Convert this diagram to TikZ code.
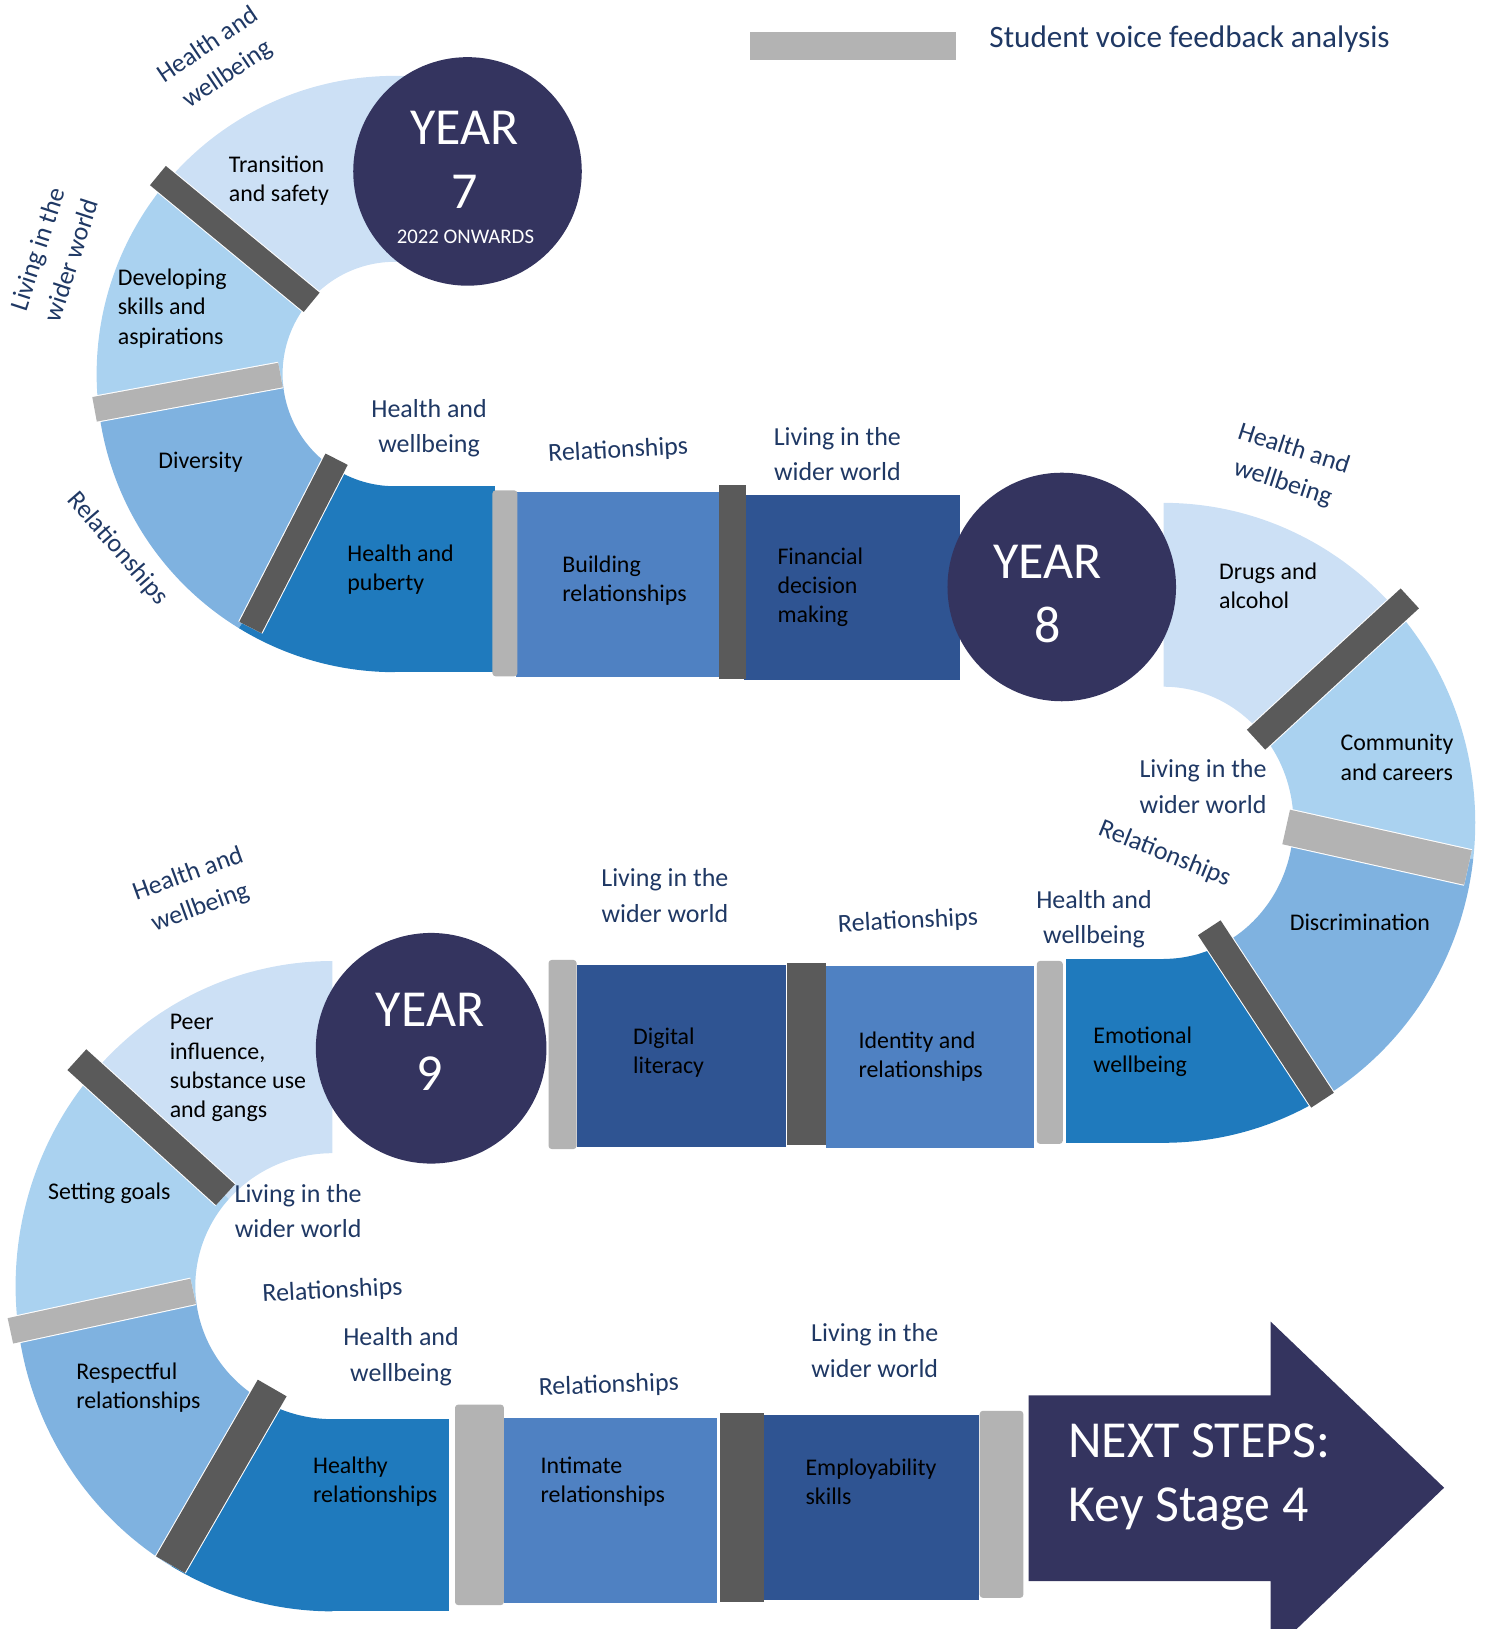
\documentclass[tikz,border=0pt]{standalone}
\usepackage{fontspec}
\setmainfont{Carlito}
\definecolor{navy}{HTML}{34345F}
\definecolor{lbl}{HTML}{1F3864}
\definecolor{cA}{HTML}{CCE0F5}
\definecolor{cB}{HTML}{AAD2F0}
\definecolor{cC}{HTML}{7FB2E0}
\definecolor{cD}{HTML}{1F7ABD}
\definecolor{cE}{HTML}{4F81C2}
\definecolor{cF}{HTML}{2F5492}
\definecolor{sepd}{HTML}{5A5A5A}
\definecolor{sepl}{HTML}{B3B3B3}
\newcommand{\annsec}[9]{\fill[#1] plot[domain=#8:#9,samples=60,variable=\t] ({#2+#4*cos(\t)},{#3+#5*sin(\t)}) -- plot[domain=#9:#8,samples=60,variable=\t] ({#2+#6*cos(\t)},{#3+#7*sin(\t)}) -- cycle;}
\newcommand{\sepbar}[4]{\draw[white,line width=#2+1pt] #3 -- #4; \draw[#1,line width=#2] #3 -- #4;}
\tikzset{
  bandtxt/.style={font=\fontsize{11.5}{14}\selectfont, text=black, align=left, inner sep=0pt, anchor=west},
  lbltxt/.style={font=\fontsize{12.5}{17}\selectfont, text=lbl, align=center, inner sep=0pt},
  yeartxt/.style={font=\fontsize{25}{31}\selectfont, text=white, inner sep=0pt},
  yearcirc/.style={circle, fill=navy, inner sep=0pt, minimum size=#1},
  lsep/.style={fill=sepl, rounded corners=1.5pt},
  dsep/.style={fill=sepd},
}
\begin{document}
\begin{tikzpicture}[x=0.5pt,y=-0.5pt]
\useasboundingbox (0,0) rectangle (1431,1568);
\clip (0,0) rectangle (1431,1568);

% ---------- Year 7 arc ----------
\annsec{cA}{380}{360}{287}{287}{108}{108}{221}{275}
\annsec{cB}{380}{360}{287}{287}{108}{108}{175}{221}
\annsec{cC}{380}{360}{287}{287}{108}{108}{121.5}{175}
\annsec{cD}{380}{360}{287}{287}{108}{108}{90}{121.5}
\fill[cD] (379,468) rectangle (476,647);
% row 1
\fill[cE] (497,474) rectangle (695,652);
\fill[cF] (716,476) rectangle (924,655);
\fill[lsep] (474,472) rectangle (498,651);
\fill[dsep] (692,467) rectangle (718,654);

% ---------- Year 8 arc ----------
\annsec{cA}{1120}{792}{300}{308}{125}{131}{270}{318}
\annsec{cB}{1120}{792}{300}{308}{125}{131}{318}{366.5}
\annsec{cC}{1120}{792}{300}{308}{125}{131}{6.5}{61.5}
\annsec{cD}{1120}{792}{300}{308}{125}{131}{61.5}{90}
\fill[cD] (1026,923) rectangle (1121,1100);
% row 2
\fill[cE] (795,930) rectangle (995,1105);
\fill[cF] (555,929) rectangle (757,1104);
\fill[lsep] (998,925) rectangle (1023,1101);
\fill[dsep] (758,927) rectangle (795,1102);
\fill[lsep] (528,924) rectangle (555,1106);

% ---------- Year 9 arc ----------
\annsec{cA}{320}{1238}{305}{313}{132}{128}{221}{270}
\annsec{cB}{320}{1238}{305}{313}{132}{128}{174}{221}
\annsec{cC}{320}{1238}{305}{313}{132}{128}{120.5}{174}
\annsec{cD}{320}{1238}{305}{313}{132}{128}{90}{120.5}
\fill[cD] (319,1366) rectangle (432,1551);
% row 3
\fill[cE] (485,1365) rectangle (690,1543);
\fill[cF] (735,1362) rectangle (942,1540);
\fill[lsep] (438,1352) rectangle (485,1545);
\fill[dsep] (693,1360) rectangle (735,1542);
\fill[lsep] (943,1358) rectangle (985,1538);

% ---------- radial separators ----------
\sepbar{sepd}{12pt}{(152,169)}{(300,291)}
\sepbar{sepl}{12pt}{(91,394)}{(270,361)}
\sepbar{sepd}{12pt}{(241,604)}{(324,442)}
\sepbar{sepd}{13pt}{(1357,576)}{(1209,712)}
\sepbar{sepl}{17pt}{(1238,796)}{(1413,835)}
\sepbar{sepd}{13pt}{(1164,893)}{(1273,1059)}
\sepbar{sepd}{13.5pt}{(74,1020)}{(217,1150)}
\sepbar{sepl}{12.5pt}{(10,1281)}{(186,1243)}
\sepbar{sepd}{16pt}{(164,1506)}{(262,1336)}

% ---------- arrow ----------
\fill[navy] (990,1343) -- (1223,1343) -- (1223,1272) -- (1390,1432) -- (1223,1592) -- (1223,1522) -- (990,1522) -- cycle;
\node[font=\fontsize{25}{31}\selectfont, text=white, align=left, inner sep=0pt, anchor=west] (next) at (1028,1422) {NEXT STEPS:\\Key Stage 4};

% ---------- year circles ----------
\node[yearcirc=110pt] (y7) at (450,165) {};
\node[yeartxt] (y7a) at (447,123) {YEAR};
\node[yeartxt] (y7b) at (447,185) {7};
\node[font=\fontsize{10}{12}\selectfont, text=white, inner sep=0pt] (y7c) at (448,228) {2022 ONWARDS};
\node[yearcirc=110pt] (y8) at (1022,565) {};
\node[yeartxt] (y8a) at (1008,541) {YEAR};
\node[yeartxt] (y8b) at (1008,602) {8};
\node[yearcirc=111pt] (y9) at (415,1009) {};
\node[yeartxt] (y9a) at (414,972) {YEAR};
\node[yeartxt] (y9b) at (414,1033) {9};

% ---------- legend ----------
\fill[sepl] (722,31) rectangle (920,58);
\node[font=\fontsize{15}{18}\selectfont, text=lbl, inner sep=0pt, anchor=west] (leg) at (952,38) {Student voice feedback analysis};

% ---------- band texts ----------
\node[bandtxt] (b1) at (220,174) {Transition\\and safety};
\node[bandtxt] (b2) at (113,297) {Developing\\skills and\\aspirations};
\node[bandtxt,anchor=center] (b3) at (193,445) {Diversity};
\node[bandtxt] (b4) at (334,548) {Health and\\puberty};
\node[bandtxt] (b5) at (541,559) {Building\\relationships};
\node[bandtxt] (b6) at (748,565) {Financial\\decision\\making};
\node[bandtxt] (b7) at (1173,564) {Drugs and\\alcohol};
\node[bandtxt] (b8) at (1290,729) {Community\\and careers};
\node[bandtxt,anchor=center] (b9) at (1309,888) {Discrimination};
\node[bandtxt] (b10) at (1052,1012) {Emotional\\wellbeing};
\node[bandtxt] (b11) at (826,1017) {Identity and\\relationships};
\node[bandtxt] (b12) at (609,1013) {Digital\\literacy};
\node[bandtxt] (b13) at (163,1028) {Peer\\influence,\\substance use\\and gangs};
\node[bandtxt] (b14) at (46,1149) {Setting goals};
\node[bandtxt] (b15) at (73,1336) {Respectful\\relationships};
\node[bandtxt] (b16) at (301,1426) {Healthy\\relationships};
\node[bandtxt] (b17) at (520,1426) {Intimate\\relationships};
\node[bandtxt] (b18) at (775,1426) {Employability\\skills};

% ---------- theme labels ----------
\node[lbltxt,rotate=34] (l1) at (210,58) {Health and\\wellbeing};
\node[lbltxt,rotate=72] (l2) at (52,245) {Living in the\\wider world};
\node[lbltxt,rotate=-49] (l3) at (113,528) {Relationships};
\node[lbltxt] (l4) at (413,412) {Health and\\wellbeing};
\node[lbltxt,rotate=3] (l5) at (595,434) {Relationships};
\node[lbltxt] (l6) at (806,437) {Living in the\\wider world};
\node[lbltxt,rotate=-18] (l7) at (1240,449) {Health and\\wellbeing};
\node[lbltxt] (l8) at (1158,757) {Living in the\\wider world};
\node[lbltxt,rotate=-22] (l9) at (1121,822) {Relationships};
\node[lbltxt] (l10) at (1053,885) {Health and\\wellbeing};
\node[lbltxt,rotate=3] (l11) at (874,887) {Relationships};
\node[lbltxt] (l12) at (640,862) {Living in the\\wider world};
\node[lbltxt,rotate=20] (l13) at (187,858) {Health and\\wellbeing};
\node[lbltxt] (l14) at (287,1166) {Living in the\\wider world};
\node[lbltxt,rotate=3] (l15) at (320,1243) {Relationships};
\node[lbltxt] (l16) at (386,1306) {Health and\\wellbeing};
\node[lbltxt,rotate=2] (l17) at (586,1334) {Relationships};
\node[lbltxt] (l18) at (842,1300) {Living in the\\wider world};
\end{tikzpicture}
\end{document}
